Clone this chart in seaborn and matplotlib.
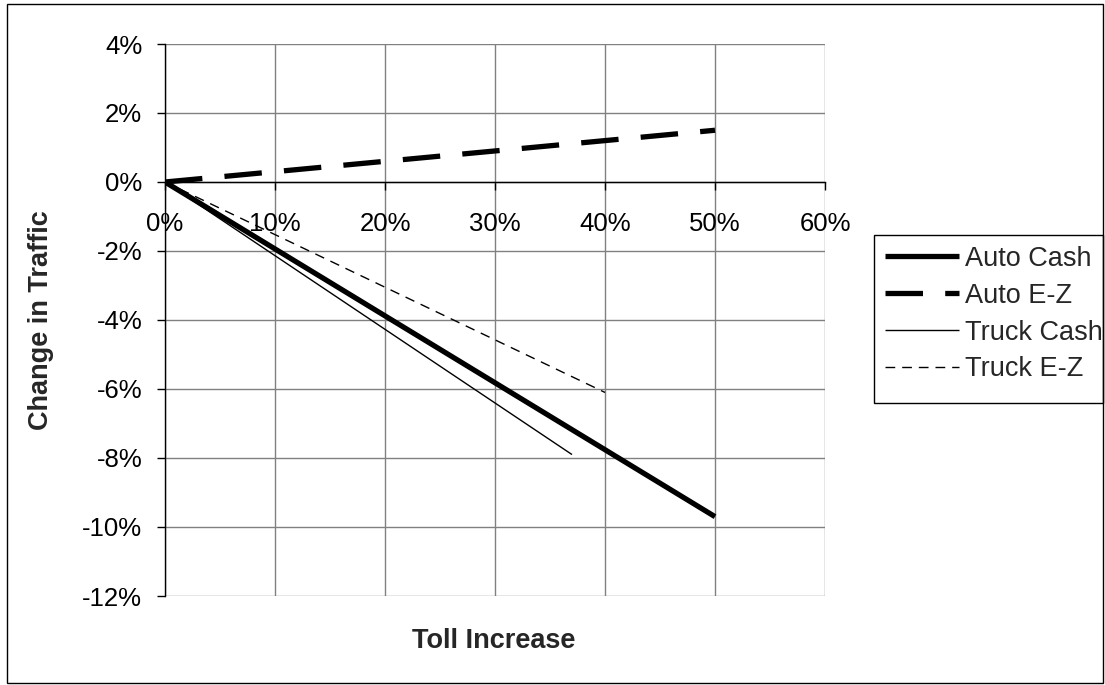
import matplotlib
matplotlib.use("Agg")
import matplotlib.pyplot as plt
import matplotlib.patches as mpatches
from matplotlib.ticker import FuncFormatter, MultipleLocator
import pandas as pd
import seaborn as sns

# Toll increase (fraction) vs. change in traffic (fraction) per vehicle / payment type
auto_cash_x = [0.0, 0.50]
auto_cash_y = [0.0, -0.097]
auto_ez_x = [0.0, 0.50]
auto_ez_y = [0.0, 0.015]
truck_cash_x = [0.0, 0.37]
truck_cash_y = [0.0, -0.079]
truck_ez_x = [0.0, 0.40]
truck_ez_y = [0.0, -0.061]

series_names = ["Auto Cash", "Auto E-Z", "Truck Cash", "Truck E-Z"]

sns.set_theme(style="white")
plt.rcParams["font.family"] = ["Liberation Sans", "DejaVu Sans"]
plt.rcParams["lines.scale_dashes"] = False

fig = plt.figure(figsize=(11.05, 6.85), dpi=100)
ax = fig.add_axes([165 / 1105, 1 - 596 / 685, 660 / 1105, 552 / 685])

styles = {
    "Auto Cash": dict(lw=3.8, linestyle="-"),
    "Auto E-Z": dict(lw=3.8, linestyle=(0, (27, 16))),
    "Truck Cash": dict(lw=1.0, linestyle="-"),
    "Truck E-Z": dict(lw=1.0, linestyle=(0, (7, 5))),
}
data = {
    "Auto Cash": (auto_cash_x, auto_cash_y),
    "Auto E-Z": (auto_ez_x, auto_ez_y),
    "Truck Cash": (truck_cash_x, truck_cash_y),
    "Truck E-Z": (truck_ez_x, truck_ez_y),
}

for name in series_names:
    xs, ys = data[name]
    df = pd.DataFrame({"x": xs, "y": ys})
    sns.lineplot(data=df, x="x", y="y", ax=ax, color="black", label=name,
                 solid_capstyle="butt", dash_capstyle="butt", zorder=3,
                 **styles[name])

ax.set_xlim(0, 0.60)
ax.set_ylim(-0.12, 0.04)
ax.xaxis.set_major_locator(MultipleLocator(0.10))
ax.yaxis.set_major_locator(MultipleLocator(0.02))
pct = FuncFormatter(lambda v, _: f"{round(v * 100):d}%")
ax.xaxis.set_major_formatter(pct)
ax.yaxis.set_major_formatter(pct)

ax.grid(True, color="#808080", lw=1.0)
ax.set_axisbelow(True)
for side in ("top", "right"):
    ax.spines[side].set_visible(False)
ax.spines["bottom"].set_position(("data", 0))
ax.spines["bottom"].set_color("black")
ax.spines["left"].set_color("black")
ax.spines["bottom"].set_linewidth(1.0)
ax.spines["left"].set_linewidth(1.0)
ax.spines["bottom"].set_zorder(2)

ax.tick_params(axis="both", labelsize=18.5, colors="black", length=5.8, width=1,
               direction="out")
ax.tick_params(axis="x", bottom=True, pad=16)
ax.tick_params(axis="y", left=True, pad=10.5)

ax.set_xlabel("")
ax.set_ylabel("")
fig.text(494 / 1105, 1 - 641 / 685, "Toll Increase", ha="center", va="center",
         fontsize=19.5, fontweight="bold")
fig.text(41 / 1105, 1 - 320 / 685, "Change in Traffic", ha="center", va="center",
         fontsize=19.5, fontweight="bold", rotation=90)

# Legend entries without their own frame; the box is drawn separately
leg = ax.legend(loc="upper left", bbox_to_anchor=(874 / 1105, 1 - 235 / 685),
                bbox_transform=fig.transFigure, fontsize=19.5, frameon=False,
                handlelength=2.75, handletextpad=0.22, labelspacing=0.4,
                borderpad=0.4, borderaxespad=0)
fig.patches.append(mpatches.Rectangle((874 / 1105, 1 - 403 / 685),
                                      229 / 1105, 168 / 685,
                                      transform=fig.transFigure, fill=False,
                                      edgecolor="black", lw=1.0))

fig.patches.append(mpatches.Rectangle((7 / 1105, 2 / 685), 1096 / 1105, 679 / 685,
                                      transform=fig.transFigure, fill=False,
                                      edgecolor="black", lw=1.0))

fig.savefig("out.png", dpi=100)
